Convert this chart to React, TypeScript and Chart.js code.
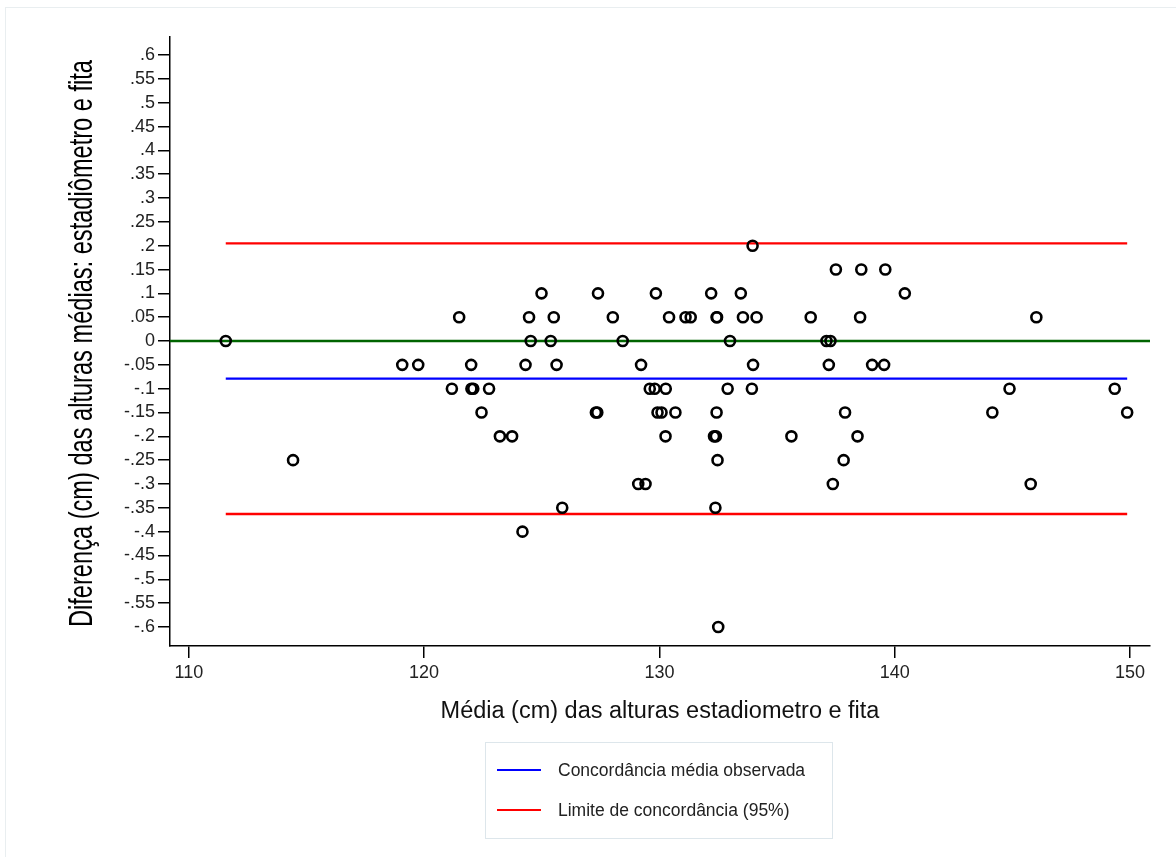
import React, { useEffect, useRef } from "react";
import { Chart, registerables } from "chart.js";

Chart.register(...registerables);

// Mean of the two measurements (cm) — x values
const averages: number[] = [
  133.96,
  137.5, 138.58, 139.6,
  124.99, 127.39, 129.85, 132.2, 133.46, 140.43,
  121.49, 124.46, 125.51, 128.02, 130.41, 131.11, 131.33, 132.43, 132.45, 133.55, 134.13, 136.43, 138.53, 146.02,
  111.57, 124.53, 125.38, 128.44, 133.0, 137.1, 137.27,
  119.07, 119.75, 122.0, 124.31, 125.63, 129.22, 133.98, 137.2, 139.04, 139.55,
  121.18, 122.01, 122.09, 122.76, 129.59, 129.8, 130.27, 132.9, 133.93, 144.88, 149.35,
  122.44, 127.3, 127.36, 129.92, 130.09, 130.68, 132.43, 137.89, 144.15, 149.88,
  123.22, 123.74, 130.26, 132.32, 132.4, 135.61, 138.42,
  114.43, 132.47, 137.83,
  129.1, 129.41, 137.37, 145.78,
  125.87, 132.38,
  124.18,
  132.5,
];

// Difference between the two measurements (cm) — y values
const differences: number[] = [
  0.2,
  0.15, 0.15, 0.15,
  0.1, 0.1, 0.1, 0.1, 0.1, 0.1,
  0.05, 0.05, 0.05, 0.05, 0.05, 0.05, 0.05, 0.05, 0.05, 0.05, 0.05, 0.05, 0.05, 0.05,
  0, 0, 0, 0, 0, 0, 0,
  -0.05, -0.05, -0.05, -0.05, -0.05, -0.05, -0.05, -0.05, -0.05, -0.05,
  -0.1, -0.1, -0.1, -0.1, -0.1, -0.1, -0.1, -0.1, -0.1, -0.1, -0.1,
  -0.15, -0.15, -0.15, -0.15, -0.15, -0.15, -0.15, -0.15, -0.15, -0.15,
  -0.2, -0.2, -0.2, -0.2, -0.2, -0.2, -0.2,
  -0.25, -0.25, -0.25,
  -0.3, -0.3, -0.3, -0.3,
  -0.35, -0.35,
  -0.4,
  -0.6,
];

const meanDifference = -0.079;
const upperLimit = 0.205;
const lowerLimit = -0.363;
const zeroLine = 0;

const xTicks: number[] = [110, 120, 130, 140, 150];
const yTicks: number[] = [
  -0.6, -0.55, -0.5, -0.45, -0.4, -0.35, -0.3, -0.25, -0.2, -0.15, -0.1, -0.05,
  0, 0.05, 0.1, 0.15, 0.2, 0.25, 0.3, 0.35, 0.4, 0.45, 0.5, 0.55, 0.6,
];
const yTickLabels: string[] = [
  "-.6", "-.55", "-.5", "-.45", "-.4", "-.35", "-.3", "-.25", "-.2", "-.15", "-.1", "-.05",
  "0", ".05", ".1", ".15", ".2", ".25", ".3", ".35", ".4", ".45", ".5", ".55", ".6",
];

const xAxisTitle = "Média (cm) das alturas estadiometro e fita";
const yAxisTitle = "Diferença (cm) das alturas médias: estadiômetro e fita";
const meanLabel = "Concordância média observada";
const limitLabel = "Limite de concordância (95%)";
const legendLabels: string[] = [meanLabel, limitLabel];

const X_MIN = 109.2;
const X_MAX = 150.85;
const Y_MIN = -0.64;
const Y_MAX = 0.638;

const FONT = "'Liberation Sans', Arial, sans-serif";

const yTitlePlugin = {
  id: "yTitleCondensed",
  afterDraw(chart: any) {
    const { ctx, chartArea } = chart;
    ctx.save();
    ctx.font = `34px ${FONT}`;
    ctx.fillStyle = "#000";
    ctx.textAlign = "center";
    ctx.textBaseline = "alphabetic";
    const w = ctx.measureText(yAxisTitle).width;
    const target = 567;
    const cy = (chartArea.top + chartArea.bottom) / 2 + 2;
    ctx.translate(92, cy);
    ctx.rotate(-Math.PI / 2);
    ctx.scale(target / w, 1);
    ctx.fillText(yAxisTitle, 0, 0);
    ctx.restore();
  },
};

const boxLegendPlugin = {
  id: "boxLegend",
  afterDraw(chart: any) {
    const { ctx } = chart;
    const items = chart.data.datasets.filter((d: any) => legendLabels.includes(d.label));
    const boxX = 485.5;
    const boxY = 742.5;
    const boxW = 347;
    const boxH = 96;
    ctx.save();
    ctx.strokeStyle = "#dde6eb";
    ctx.lineWidth = 1;
    ctx.strokeRect(boxX, boxY, boxW, boxH);
    ctx.font = `17.5px ${FONT}`;
    ctx.textAlign = "left";
    ctx.textBaseline = "middle";
    items.forEach((d: any, i: number) => {
      const y = 770 + i * 40;
      ctx.strokeStyle = d.borderColor;
      ctx.lineWidth = 2;
      ctx.beginPath();
      ctx.moveTo(497, y);
      ctx.lineTo(541, y);
      ctx.stroke();
      ctx.fillStyle = "#222";
      ctx.fillText(d.label, 558, y + 1);
    });
    ctx.restore();
  },
};

export default function App() {
  const canvasRef = useRef<HTMLCanvasElement | null>(null);

  useEffect(() => {
    if (!canvasRef.current) return;
    const points = averages.map((x, i) => ({ x, y: differences[i] }));
    const dataMin = Math.min(...averages);
    const dataMax = Math.max(...averages);

    const chart = new Chart(canvasRef.current, {
      type: "scatter",
      data: {
        datasets: [
          {
            label: "Diferença",
            data: points,
            pointRadius: 5,
            pointBorderWidth: 2.6,
            borderColor: "#000",
            backgroundColor: "rgba(0,0,0,0)",
            pointHoverRadius: 5,
          } as any,
          {
            label: "zero",
            data: [
              { x: X_MIN, y: zeroLine },
              { x: X_MAX, y: zeroLine },
            ],
            showLine: true,
            pointRadius: 0,
            borderColor: "#006400",
            borderWidth: 2.4,
          },
          {
            label: meanLabel,
            data: [
              { x: dataMin, y: meanDifference },
              { x: dataMax, y: meanDifference },
            ],
            showLine: true,
            pointRadius: 0,
            borderColor: "#0000ff",
            borderWidth: 2.2,
          },
          {
            label: limitLabel,
            data: [
              { x: dataMin, y: upperLimit },
              { x: dataMax, y: upperLimit },
            ],
            showLine: true,
            pointRadius: 0,
            borderColor: "#ff0000",
            borderWidth: 2.4,
          },
          {
            label: "limite inferior",
            data: [
              { x: dataMin, y: lowerLimit },
              { x: dataMax, y: lowerLimit },
            ],
            showLine: true,
            pointRadius: 0,
            borderColor: "#ff0000",
            borderWidth: 2.4,
          },
        ],
      },
      options: {
        animation: false,
        responsive: false,
        devicePixelRatio: 1,
        layout: { padding: { left: 0, right: 26, top: 37, bottom: 121 } },
        plugins: {
          legend: { display: false },
          tooltip: { enabled: false },
        },
        scales: {
          x: {
            type: "linear",
            min: X_MIN,
            max: X_MAX,
            afterBuildTicks: (s: any) => {
              s.ticks = xTicks.map((v) => ({ value: v }));
            },
            afterFit: (s: any) => {
              s.height = 90;
            },
            grid: {
              drawOnChartArea: false,
              drawTicks: true,
              tickLength: 12,
              color: "#000",
              lineWidth: 1.5,
            },
            border: { display: true, color: "#000", width: 1.5 },
            ticks: {
              color: "#222",
              padding: 4,
              maxRotation: 0,
              font: { family: FONT, size: 18 },
              callback: (v: any) => String(v),
            },
            title: {
              display: true,
              text: xAxisTitle,
              color: "#111",
              font: { family: FONT, size: 23.5 },
              padding: { top: 0, bottom: 10 },
            },
          },
          y: {
            type: "linear",
            min: Y_MIN,
            max: Y_MAX,
            afterBuildTicks: (s: any) => {
              s.ticks = yTicks.map((v) => ({ value: v }));
            },
            afterFit: (s: any) => {
              s.width = 170;
            },
            grid: {
              drawOnChartArea: false,
              drawTicks: true,
              tickLength: 12,
              color: "#000",
              lineWidth: 1.5,
            },
            border: { display: true, color: "#000", width: 1.5 },
            ticks: {
              color: "#222",
              padding: 3,
              font: { family: FONT, size: 18 },
              callback: (_v: any, i: number) => yTickLabels[i],
            },
            title: { display: false },
          },
        },
      },
      plugins: [yTitlePlugin, boxLegendPlugin],
    } as any);

    return () => chart.destroy();
  }, []);

  return (
    <div
      style={{
        position: "fixed",
        left: 0,
        top: 0,
        width: 1176,
        height: 857,
        background: "#fff",
      }}
    >
      <div
        style={{
          position: "absolute",
          left: 5,
          top: 7,
          width: 1171,
          height: 850,
          borderLeft: "1px solid #e9eef0",
          borderTop: "1px solid #e9eef0",
        }}
      />
      <canvas
        ref={canvasRef}
        width={1176}
        height={857}
        style={{ position: "absolute", left: 0, top: 0, width: 1176, height: 857 }}
      />
    </div>
  );
}
